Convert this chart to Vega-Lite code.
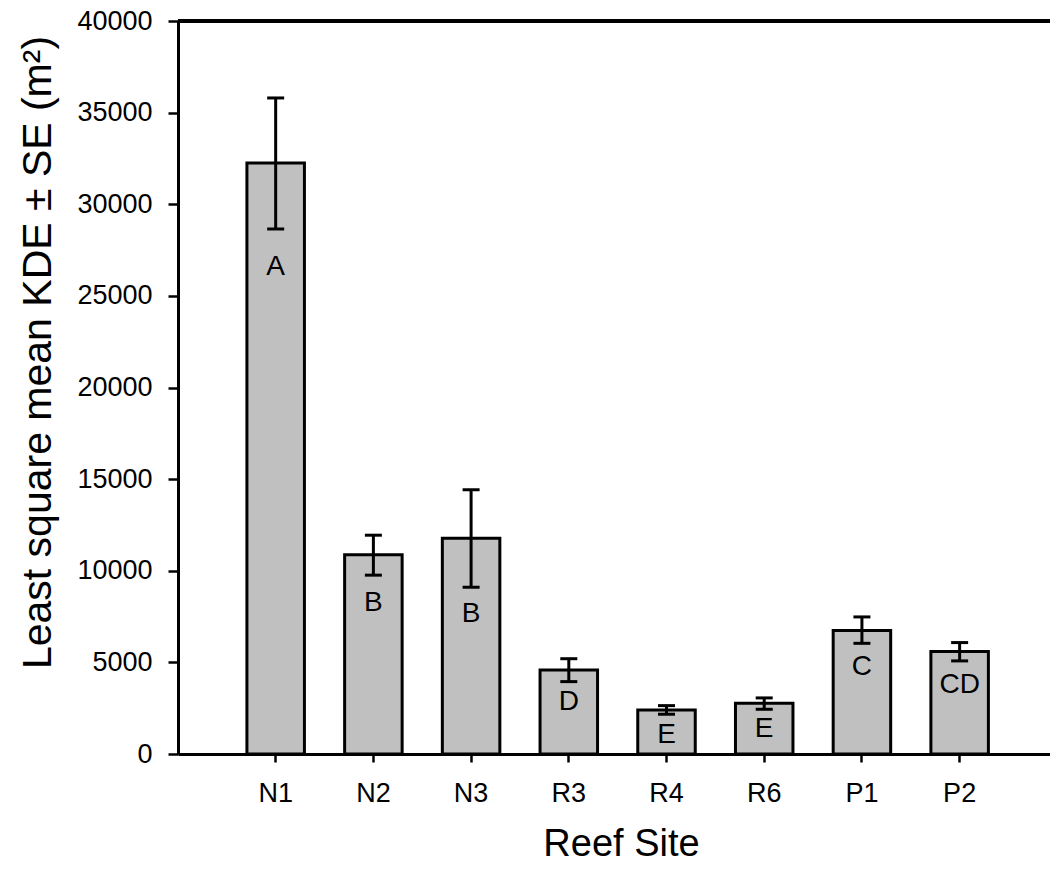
{
  "$schema": "https://vega.github.io/schema/vega-lite/v6.json",
  "width": 872,
  "height": 733,
  "autosize": {"type": "none"},
  "padding": {"left": 178, "top": 21, "right": 0, "bottom": 117},
  "background": "white",
  "config": {"view": {"stroke": null}, "font": "Liberation Sans"},
  "data": {
    "values": [
      {"site": "N1", "mean": 32250, "lower": 28650, "upper": 35800, "group": "A", "letter_y": 26600},
      {"site": "N2", "mean": 10870, "lower": 9760, "upper": 11940, "group": "B", "letter_y": 8250},
      {"site": "N3", "mean": 11780, "lower": 9100, "upper": 14420, "group": "B", "letter_y": 7650},
      {"site": "R3", "mean": 4590, "lower": 3950, "upper": 5200, "group": "D", "letter_y": 2860},
      {"site": "R4", "mean": 2400, "lower": 2170, "upper": 2640, "group": "E", "letter_y": 1010},
      {"site": "R6", "mean": 2770, "lower": 2440, "upper": 3060, "group": "E", "letter_y": 1340},
      {"site": "P1", "mean": 6740, "lower": 6040, "upper": 7480, "group": "C", "letter_y": 4750},
      {"site": "P2", "mean": 5590, "lower": 5080, "upper": 6080, "group": "CD", "letter_y": 3770}
    ]
  },
  "layer": [
    {
      "mark": {"type": "bar", "fill": "#c0c0c0", "stroke": "black", "strokeWidth": 3},
      "encoding": {
        "x": {
          "field": "site", "type": "nominal", "sort": null, "title": "Reef Site",
          "scale": {"paddingInner": 0.4115, "paddingOuter": 0.668, "align": 0.528},
          "axis": {
            "labelAngle": 0, "labelFontSize": 27, "labelColor": "black", "labelPadding": 18,
            "tickSize": 8, "tickWidth": 2.5, "tickColor": "black", "bandPosition": 0.5,
            "domainColor": "black", "domainWidth": 3, "grid": false,
            "titleFontSize": 38, "titleFontWeight": "normal", "titleColor": "black",
            "titleX": 443, "titleY": 101, "titleBaseline": "alphabetic", "titleAlign": "center"
          }
        },
        "y": {
          "field": "mean", "type": "quantitative", "title": "Least square mean KDE ± SE (m²)",
          "scale": {"domain": [0, 40000], "nice": false},
          "axis": {
            "values": [0, 5000, 10000, 15000, 20000, 25000, 30000, 35000, 40000],
            "format": "d", "labelFontSize": 27, "labelColor": "black", "labelPadding": 16,
            "labelFlush": false, "labelOverlap": false,
            "tickSize": 10, "tickWidth": 2.5, "tickColor": "black",
            "domainColor": "black", "domainWidth": 3, "grid": false,
            "titleFontSize": 41, "titleFontWeight": "normal", "titleColor": "black",
            "titleAngle": -90, "titleBaseline": "alphabetic", "titleAlign": "center",
            "titleX": -128, "titleY": 331
          }
        }
      }
    },
    {
      "mark": {"type": "rule", "color": "black", "strokeWidth": 3},
      "encoding": {
        "x": {"field": "site", "type": "nominal", "sort": null},
        "y": {"field": "lower", "type": "quantitative", "title": "Least square mean KDE ± SE (m²)"},
        "y2": {"field": "upper"}
      }
    },
    {
      "mark": {"type": "tick", "color": "black", "thickness": 3, "size": 17, "opacity": 1},
      "encoding": {
        "x": {"field": "site", "type": "nominal", "sort": null},
        "y": {"field": "upper", "type": "quantitative", "title": "Least square mean KDE ± SE (m²)"}
      }
    },
    {
      "mark": {"type": "tick", "color": "black", "thickness": 3, "size": 17, "opacity": 1},
      "encoding": {
        "x": {"field": "site", "type": "nominal", "sort": null},
        "y": {"field": "lower", "type": "quantitative", "title": "Least square mean KDE ± SE (m²)"}
      }
    },
    {
      "mark": {"type": "text", "fontSize": 28, "baseline": "middle", "align": "center", "color": "black"},
      "encoding": {
        "x": {"field": "site", "type": "nominal", "sort": null},
        "y": {"field": "letter_y", "type": "quantitative", "title": "Least square mean KDE ± SE (m²)"},
        "text": {"field": "group", "type": "nominal"}
      }
    },
    {
      "mark": {"type": "rule", "color": "black", "strokeWidth": 3},
      "encoding": {"y": {"datum": 40000, "type": "quantitative"}}
    }
  ]
}
